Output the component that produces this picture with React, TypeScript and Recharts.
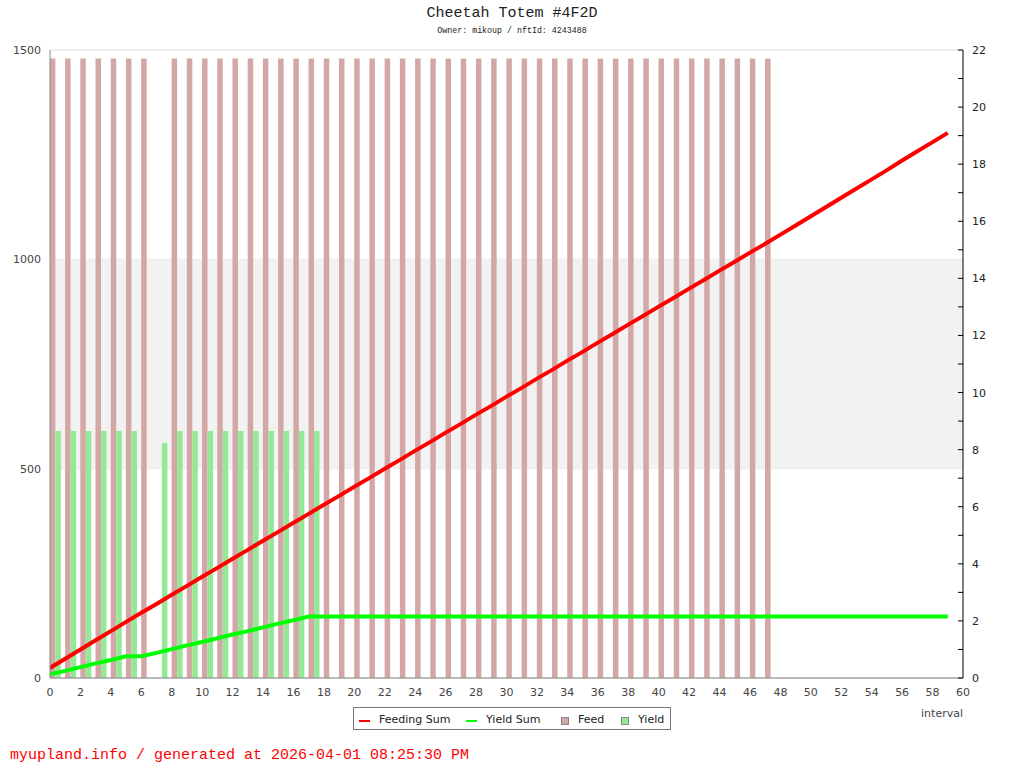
import React from "react";
import {
  ComposedChart,
  Bar,
  Line,
  XAxis,
  YAxis,
  CartesianGrid,
  ReferenceArea,
} from "recharts";

// interval index (x)
const intervals = [
  0, 1, 2, 3, 4, 5, 6, 7, 8, 9, 10, 11, 12, 13, 14, 15, 16, 17, 18, 19,
  20, 21, 22, 23, 24, 25, 26, 27, 28, 29, 30, 31, 32, 33, 34, 35, 36, 37, 38, 39,
  40, 41, 42, 43, 44, 45, 46, 47, 48, 49, 50, 51, 52, 53, 54, 55, 56, 57, 58, 59,
];

// per-interval feed (right axis)
const feed = [
  21.7, 21.7, 21.7, 21.7, 21.7, 21.7, 21.7, null, 21.7, 21.7, 21.7, 21.7, 21.7, 21.7, 21.7, 21.7, 21.7, 21.7, 21.7, 21.7,
  21.7, 21.7, 21.7, 21.7, 21.7, 21.7, 21.7, 21.7, 21.7, 21.7, 21.7, 21.7, 21.7, 21.7, 21.7, 21.7, 21.7, 21.7, 21.7, 21.7,
  21.7, 21.7, 21.7, 21.7, 21.7, 21.7, 21.7, 21.7, null, null, null, null, null, null, null, null, null, null, null, null,
];

// per-interval yield (right axis)
const yieldVals = [
  8.65, 8.65, 8.65, 8.65, 8.65, 8.65, null, 8.23, 8.65, 8.65, 8.65, 8.65, 8.65, 8.65, 8.65, 8.65, 8.65, 8.65, null, null,
  null, null, null, null, null, null, null, null, null, null, null, null, null, null, null, null, null, null, null, null,
  null, null, null, null, null, null, null, null, null, null, null, null, null, null, null, null, null, null, null, null,
];

// cumulative sums (left axis)
const feedingSum = [
  24, 46, 68, 90, 112, 134, 156, 177, 199, 220, 242, 263, 285, 306, 328, 349, 371, 392, 414, 435,
  457, 478, 500, 521, 543, 564, 586, 607, 629, 650, 672, 693, 715, 736, 758, 779, 801, 822, 844, 865,
  887, 908, 930, 951, 973, 994, 1016, 1037, 1059, 1081, 1103, 1125, 1147, 1169, 1191, 1213, 1236, 1258, 1280, 1302,
];

const yieldSum = [
  9, 17, 26, 35, 43, 52, 52, 60, 69, 78, 86, 95, 104, 112, 121, 130, 138, 147, 147, 147,
  147, 147, 147, 147, 147, 147, 147, 147, 147, 147, 147, 147, 147, 147, 147, 147, 147, 147, 147, 147,
  147, 147, 147, 147, 147, 147, 147, 147, 147, 147, 147, 147, 147, 147, 147, 147, 147, 147, 147, 147,
];

const xTicks = [0, 2, 4, 6, 8, 10, 12, 14, 16, 18, 20, 22, 24, 26, 28, 30, 32, 34, 36, 38, 40, 42, 44, 46, 48, 50, 52, 54, 56, 58, 60];
const leftTicks = [0, 500, 1000, 1500];
const rightTicks = [0, 1, 2, 3, 4, 5, 6, 7, 8, 9, 10, 11, 12, 13, 14, 15, 16, 17, 18, 19, 20, 21, 22];

const rows = intervals.map((interval, i) => ({
  interval,
  feed: feed[i],
  yield: yieldVals[i],
  feedingSum: feedingSum[i],
  yieldSum: yieldSum[i],
}));

const FONT = "'DejaVu Sans', sans-serif";
const MONO = "'Liberation Mono', 'DejaVu Sans Mono', monospace";

const RightTick = (props: any) => {
  const { x, y, payload } = props;
  const v = payload.value;
  return (
    <g>
      <line x1={x - 14} x2={x - 9} y1={y} y2={y} stroke="#000" />
      {v % 2 === 0 && (
        <text x={x} y={y} dy={4} fontSize={11} fontFamily={FONT} fill="#222">
          {v}
        </text>
      )}
    </g>
  );
};

const legendItems = [
  { label: "Feeding Sum", color: "#ff0000", kind: "line", left: 5, textLeft: 25 },
  { label: "Yield Sum", color: "#00ff00", kind: "line", left: 112, textLeft: 132 },
  { label: "Feed", color: "#d4a7a7", kind: "box", left: 207, textLeft: 224 },
  { label: "Yield", color: "#95e895", kind: "box", left: 267, textLeft: 284 },
];

export default function App() {
  return (
    <div style={{ position: "absolute", left: 0, top: 0, width: 1024, height: 768, background: "#fff" }}>
      <ComposedChart
        width={1024}
        height={768}
        data={rows}
        margin={{ top: 50, right: 0, bottom: 60, left: 0 }}
        barGap={0}
      >
        <ReferenceArea
          xAxisId="main"
          yAxisId="left"
          x1={0}
          x2={60}
          y1={500}
          y2={1000}
          fill="#f2f2f2"
          fillOpacity={1}
          stroke="none"
        />
        <CartesianGrid xAxisId="main" yAxisId="left" vertical={false} stroke="#dcdcdc" />
        <XAxis
          xAxisId="main"
          dataKey="interval"
          type="number"
          domain={[0, 60]}
          allowDataOverflow
          ticks={xTicks}
          interval={0}
          height={30}
          tickLine={false}
          tickSize={0}
          tickMargin={10}
          axisLine={{ stroke: "#888" }}
          tick={{ fontSize: 11, fill: "#444", fontFamily: FONT }}
        />
        {/* bar positions, shifted so each feed/yield pair starts at its interval */}
        <XAxis
          xAxisId="bars"
          dataKey="interval"
          type="number"
          orientation="top"
          height={0}
          domain={[-0.36, 59.64]}
          allowDataOverflow
          hide
        />
        <YAxis
          yAxisId="left"
          orientation="left"
          width={50}
          domain={[0, 1500]}
          ticks={leftTicks}
          interval={0}
          tickLine={false}
          tickSize={0}
          tickMargin={9}
          axisLine={{ stroke: "#888" }}
          tick={{ fontSize: 11, fill: "#444", fontFamily: FONT }}
        />
        <YAxis
          yAxisId="right"
          orientation="right"
          width={61}
          domain={[0, 22]}
          ticks={rightTicks}
          interval={0}
          tickLine={false}
          tickSize={0}
          tickMargin={9}
          axisLine={{ stroke: "#000" }}
          tick={RightTick}
        />
        <Bar
          xAxisId="bars"
          yAxisId="right"
          dataKey="feed"
          fill="#d4a7a7"
          barSize={5.5}
          isAnimationActive={false}
        />
        <Bar
          xAxisId="bars"
          yAxisId="right"
          dataKey="yield"
          fill="#95e895"
          barSize={5.5}
          isAnimationActive={false}
        />
        <Line
          xAxisId="main"
          yAxisId="left"
          type="linear"
          dataKey="feedingSum"
          stroke="#ff0000"
          strokeWidth={4}
          dot={false}
          activeDot={false}
          isAnimationActive={false}
        />
        <Line
          xAxisId="main"
          yAxisId="left"
          type="linear"
          dataKey="yieldSum"
          stroke="#00ff00"
          strokeWidth={4}
          dot={false}
          activeDot={false}
          isAnimationActive={false}
        />
      </ComposedChart>

      {/* title block */}
      <div
        style={{
          position: "absolute", left: 0, top: 6, width: 1024, textAlign: "center",
          fontFamily: MONO, fontSize: 15, lineHeight: "16px", color: "#222",
        }}
      >
        Cheetah Totem #4F2D
      </div>
      <div
        style={{
          position: "absolute", left: 0, top: 26, width: 1024, textAlign: "center",
          fontFamily: MONO, fontSize: 8.3, lineHeight: "10px", color: "#222",
        }}
      >
        Owner: mikoup / nftId: 4243488
      </div>

      {/* x axis name */}
      <div
        style={{
          position: "absolute", left: 900, top: 707, width: 63, textAlign: "right",
          fontFamily: FONT, fontSize: 11, lineHeight: "14px", color: "#444",
        }}
      >
        interval
      </div>

      {/* legend */}
      <div
        style={{
          position: "absolute", left: 353, top: 707, width: 316, height: 21,
          border: "1px solid #777", background: "#fff", fontFamily: FONT, fontSize: 11, color: "#222",
        }}
      >
        {legendItems.map((it) => (
          <React.Fragment key={it.label}>
            {it.kind === "line" ? (
              <div style={{ position: "absolute", left: it.left, top: 12, width: 11, height: 2, background: it.color }} />
            ) : (
              <div
                style={{
                  position: "absolute", left: it.left, top: 9, width: 6, height: 6,
                  background: it.color, border: "1px solid #888",
                }}
              />
            )}
            <div style={{ position: "absolute", left: it.textLeft, top: 5, lineHeight: "14px", whiteSpace: "nowrap" }}>
              {it.label}
            </div>
          </React.Fragment>
        ))}
      </div>

      {/* footer */}
      <div
        style={{
          position: "absolute", left: 10, top: 747, fontFamily: MONO, fontSize: 15,
          lineHeight: "18px", color: "#ff0000", whiteSpace: "nowrap",
        }}
      >
        myupland.info / generated at 2026-04-01 08:25:30 PM
      </div>
    </div>
  );
}
